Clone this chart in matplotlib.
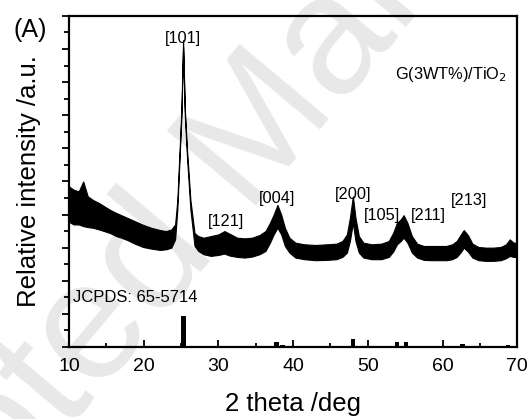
import matplotlib
matplotlib.use("Agg")
import matplotlib.pyplot as plt
import numpy as np
from matplotlib.ticker import MultipleLocator

plt.rcParams['font.family'] = ['Liberation Sans', 'DejaVu Sans']

# noisy XRD trace, read as upper / lower edge of the black band
two_theta = [10.0, 10.6, 11.3, 11.9, 12.5, 13.2, 14.0, 14.7, 15.5, 16.3, 17.0, 17.8,
             18.8, 19.9, 21.0, 22.2, 23.0, 23.7, 24.2, 24.5, 24.8, 25.05, 25.27, 25.5,
             25.8, 26.25, 26.8, 27.3, 28.0, 29.0, 30.0, 30.8, 31.5, 32.5, 33.5, 34.5,
             35.5, 36.3, 36.9, 37.4, 37.9, 38.4, 38.9, 39.5, 40.3, 41.5, 43.0, 44.5,
             45.8, 46.6, 47.2, 47.6, 48.0, 48.35, 48.8, 49.4, 50.5, 51.8, 52.8, 53.4,
             53.9, 54.4, 54.8, 55.3, 55.9, 56.6, 57.5, 58.5, 59.5, 60.5, 61.3, 61.9,
             62.4, 62.85, 63.4, 64.0, 64.8, 65.8, 66.8, 67.8, 68.5, 69.0, 69.5, 70.0]
upper = [4.85, 4.75, 4.70, 5.00, 4.55, 4.44, 4.35, 4.25, 4.14, 4.05, 3.98, 3.90,
         3.80, 3.69, 3.60, 3.53, 3.50, 3.55, 3.70, 4.44, 5.95, 7.20, 9.27, 7.20,
         5.95, 4.44, 3.44, 3.35, 3.30, 3.35, 3.40, 3.50, 3.42, 3.30, 3.28, 3.30,
         3.38, 3.50, 3.75, 4.00, 4.29, 4.00, 3.60, 3.30, 3.15, 3.10, 3.08, 3.10,
         3.12, 3.20, 3.40, 3.90, 4.55, 3.90, 3.35, 3.15, 3.10, 3.12, 3.20, 3.45,
         3.75, 3.85, 3.98, 3.75, 3.35, 3.12, 3.05, 3.05, 3.05, 3.05, 3.10, 3.20,
         3.38, 3.53, 3.38, 3.12, 3.02, 3.00, 3.00, 3.02, 3.10, 3.25, 3.15, 3.15]
lower = [3.78, 3.70, 3.70, 3.65, 3.62, 3.60, 3.55, 3.50, 3.44, 3.35, 3.30, 3.23,
         3.12, 3.02, 2.97, 2.93, 2.95, 3.00, 3.25, 4.15, 5.70, 7.00, 9.05, 7.00,
         5.70, 4.15, 3.05, 2.90, 2.80, 2.75, 2.78, 2.82, 2.76, 2.72, 2.70, 2.73,
         2.80, 2.90, 3.15, 3.40, 3.60, 3.40, 3.05, 2.85, 2.70, 2.65, 2.62, 2.63,
         2.65, 2.72, 2.85, 3.20, 3.75, 3.20, 2.85, 2.70, 2.65, 2.65, 2.72, 2.88,
         3.10, 3.20, 3.30, 3.15, 2.85, 2.70, 2.63, 2.62, 2.62, 2.62, 2.65, 2.72,
         2.85, 3.00, 2.88, 2.70, 2.62, 2.60, 2.60, 2.62, 2.68, 2.75, 2.72, 2.72]

# JCPDS 65-5714 reference lines
ref_pos = [25.3, 36.9, 37.8, 38.6, 48.0, 53.9, 55.1, 62.7, 68.8]
ref_int = [0.94, 0.04, 0.15, 0.05, 0.24, 0.15, 0.15, 0.08, 0.05]

# peak labels
hkl = ['[101]', '[121]', '[004]', '[200]', '[105]', '[211]', '[213]']
hkl_x = [25.3, 31.0, 37.9, 48.0, 51.9, 58.1, 63.6]
hkl_y = [9.33, 3.80, 4.47, 4.62, 3.96, 3.96, 4.41]

fig = plt.figure(figsize=(5.31, 4.19), dpi=100)
ax = fig.add_axes([0.130, 0.172, 0.844, 0.790])
ax.patch.set_alpha(0)

# faint watermark behind the plot
fig.text(0.45, 0.62, 'Accepted Manuscript', fontsize=122, color='#e8e8e8',
         rotation=50, ha='center', va='center', rotation_mode='anchor', zorder=-10)

ax.fill_between(two_theta, lower, upper, color='k', lw=0.8, zorder=3)
ax.bar(ref_pos, ref_int, width=0.6, color='k', zorder=3)

for lab, xx, yy in zip(hkl, hkl_x, hkl_y):
    ax.text(xx, yy, lab, fontsize=11.8, ha='center', va='center', zorder=4)

ax.text(68.7, 8.22, 'G(3WT%)/TiO$_2$', fontsize=11.8, ha='right', va='center')
ax.text(10.5, 1.5, 'JCPDS: 65-5714', fontsize=12, ha='left', va='center')
fig.text(0.025, 0.928, '(A)', fontsize=18, ha='left', va='center')

ax.set_xlim(10, 70)
ax.set_ylim(0, 10)
ax.xaxis.set_major_locator(MultipleLocator(10))
ax.xaxis.set_minor_locator(MultipleLocator(5))
ax.yaxis.set_major_locator(MultipleLocator(1))
ax.yaxis.set_minor_locator(MultipleLocator(0.5))
ax.tick_params(axis='x', which='major', direction='in', length=5, width=1.3,
               labelsize=14, pad=8)
ax.tick_params(axis='x', which='minor', direction='in', length=3, width=1.3)
ax.tick_params(axis='y', which='major', direction='out', length=5, width=1.3,
               labelleft=False)
ax.tick_params(axis='y', which='minor', direction='out', length=3.8, width=1.3)
for s in ax.spines.values():
    s.set_linewidth(1.6)

ax.set_xlabel('2 theta /deg', fontsize=18.5, labelpad=12)
ax.set_ylabel('Relative intensity /a.u.', fontsize=18.5, labelpad=13)

fig.savefig('out.png', dpi=100)
